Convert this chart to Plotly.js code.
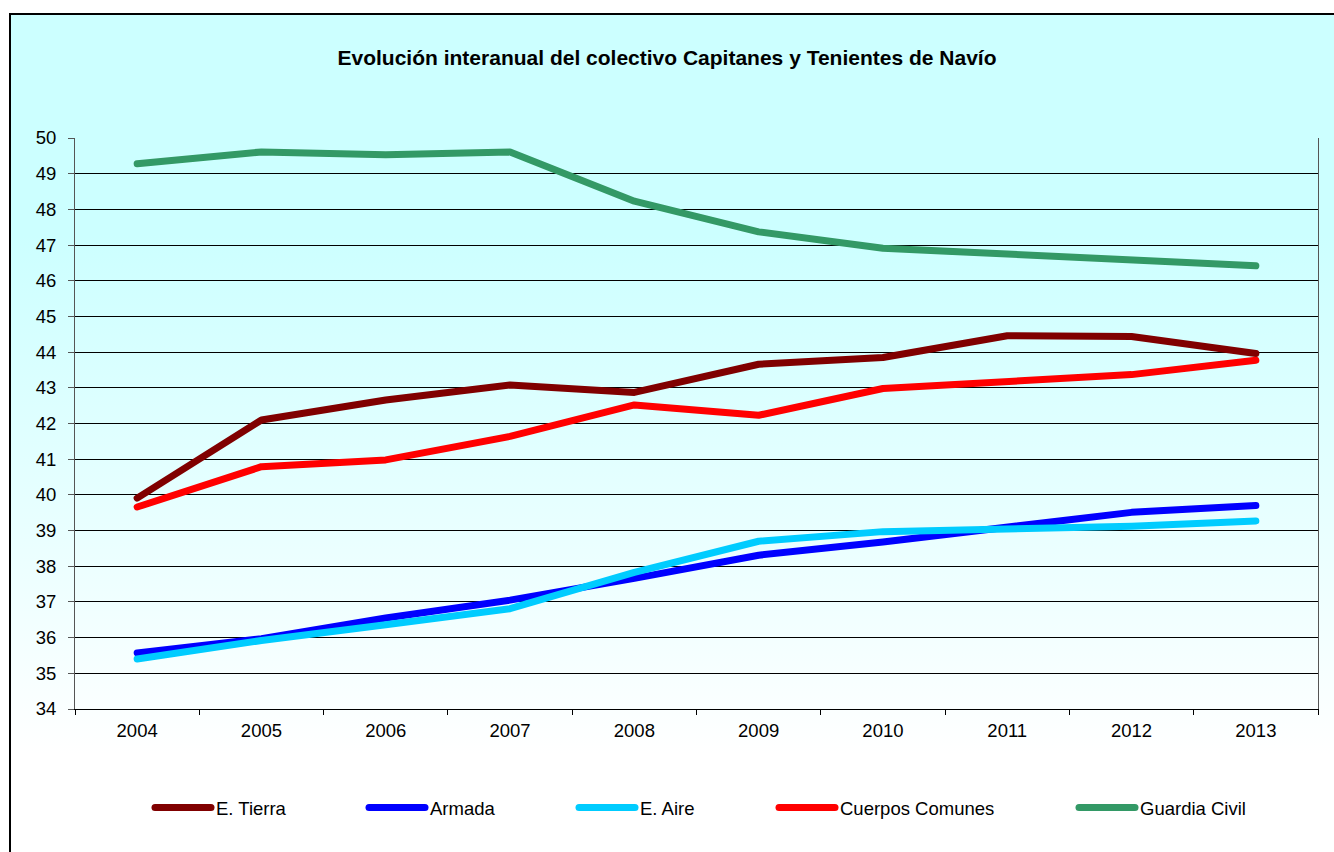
<!DOCTYPE html>
<html>
<head>
<meta charset="utf-8">
<script src="https://cdn.plot.ly/plotly-3.0.1.min.js"></script>
<style>
  html, body { margin:0; padding:0; width:1334px; height:852px; overflow:hidden; background:#fff; }
  #bg { position:absolute; left:9px; top:13px; width:1400px; height:900px;
        border-left:2px solid #000; border-top:2px solid #000;
        background:linear-gradient(to bottom, #CCFFFF 0px, #CCFFFF 220px, #FFFFFF 740px); }
  #chart { position:absolute; left:0; top:0; width:1334px; height:852px; }
  #chart .scatterlayer .js-line, #chart .legendlines path { stroke-linecap: round; stroke-linejoin: round; }
</style>
</head>
<body>
<div id="bg"></div>
<div id="chart"></div>
<script>
const years = ['2004','2005','2006','2007','2008','2009','2010','2011','2012','2013'];
const seriesNames = ['E. Tierra','Armada','E. Aire','Cuerpos Comunes','Guardia Civil'];
const eTierra = [39.91, 42.10, 42.66, 43.08, 42.87, 43.66, 43.85, 44.46, 44.44, 43.96];
const armada = [35.57, 35.97, 36.55, 37.05, 37.66, 38.31, 38.68, 39.10, 39.51, 39.70];
const eAire = [35.40, 35.92, 36.36, 36.81, 37.83, 38.70, 38.97, 39.05, 39.12, 39.27];
const cuerposComunes = [39.66, 40.79, 40.98, 41.64, 42.52, 42.23, 42.98, 43.17, 43.37, 43.77];
const guardiaCivil = [49.28, 49.61, 49.53, 49.61, 48.23, 47.37, 46.91, 46.75, 46.59, 46.42];

const values = [eTierra, armada, eAire, cuerposComunes, guardiaCivil];
const colors = ['#800000', '#0000FF', '#00CCFF', '#FF0000', '#339966'];
const legendIds = ['legend', 'legend2', 'legend3', 'legend4', 'legend5'];
const legendX = [155, 369, 579, 779, 1079];

const FONT = 'Liberation Sans, Arial, sans-serif';
const L = 75, R = 1318, T = 138, B = 709;

const traces = values.map((v, i) => ({
  type: 'scatter', mode: 'lines', x: years, y: v, name: seriesNames[i],
  line: { color: colors[i], width: 7 },
  legend: legendIds[i], showlegend: true, hoverinfo: 'x+y+name'
}));

const layout = {
  width: 1334, height: 852,
  margin: { l: L, r: 1334 - R, t: T, b: 852 - B, pad: 0 },
  paper_bgcolor: 'rgba(0,0,0,0)', plot_bgcolor: 'rgba(0,0,0,0)',
  font: { family: FONT, size: 18, color: '#000' },
  title: { text: '<b>Evolución interanual del colectivo Capitanes y Tenientes de Navío</b>',
           x: 0.5, xref: 'container', y: 1 - 58/852, yref: 'container', yanchor: 'middle',
           font: { family: FONT, size: 21, color: '#000' } },
  xaxis: { type: 'category', range: [-0.5, 9.5], tickson: 'boundaries',
           ticks: 'outside', ticklen: 5, tickcolor: '#000', tickwidth: 1,
           showline: true, linecolor: '#000', linewidth: 1,
           showgrid: false, zeroline: false, ticklabelstandoff: 5,
           tickfont: { family: FONT, size: 18.5, color: '#000' } },
  yaxis: { range: [34, 50], dtick: 1, tick0: 34,
           ticks: 'outside', ticklen: 6, tickcolor: '#555', tickwidth: 1,
           showline: true, linecolor: '#555', linewidth: 1, mirror: true,
           showgrid: true, gridcolor: '#000', gridwidth: 1, zeroline: false,
           ticklabelstandoff: 8,
           tickfont: { family: FONT, size: 18.5, color: '#000' } },
  showlegend: true
};

legendIds.forEach((id, i) => {
  layout[id] = {
    orientation: 'h', xanchor: 'left', yanchor: 'middle',
    x: (legendX[i] - L - 5) / (R - L), y: (B - 808) / (B - T),
    bgcolor: 'rgba(0,0,0,0)', borderwidth: 0, itemwidth: 56,
    font: { family: FONT, size: 18.5, color: '#000' }
  };
});

Plotly.newPlot('chart', traces, layout, { displayModeBar: false, staticPlot: true });
</script>
</body>
</html>
